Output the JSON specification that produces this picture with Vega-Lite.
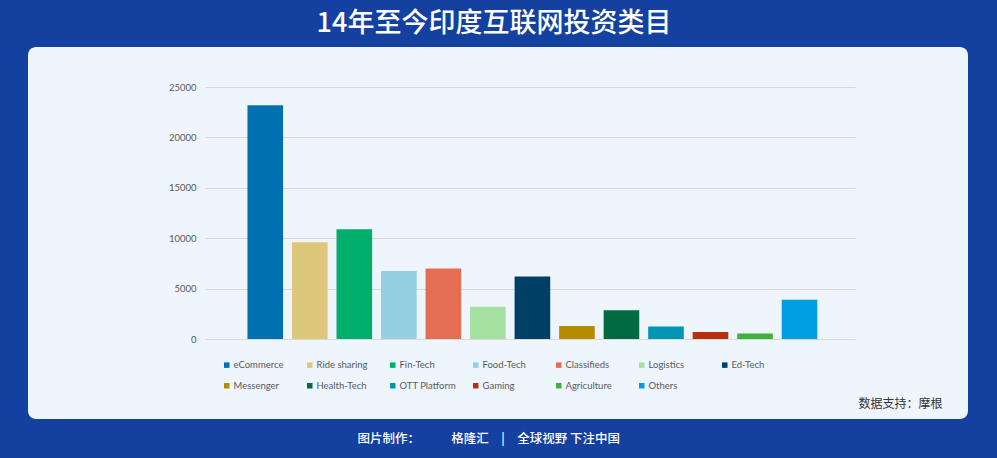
{
  "$schema": "https://vega.github.io/schema/vega-lite/v6.json",
  "width": 940,
  "height": 372,
  "autosize": "none",
  "padding": {"left": 28, "top": 47, "right": 29, "bottom": 39},
  "background": "#14409F",
  "config": {
    "view": {"fill": "#EEF5FD", "stroke": null, "cornerRadius": 8}
  },
  "title": {
    "text": "14年至今印度互联网投资类目",
    "font": "Noto Sans CJK SC",
    "fontSize": 27,
    "fontWeight": 500,
    "color": "#FFFFFF",
    "anchor": "middle",
    "frame": "group",
    "offset": 9,
    "dx": -4
  },
  "data": {
    "values": [
      {"category": "eCommerce", "value": 23200},
      {"category": "Ride sharing", "value": 9600},
      {"category": "Fin-Tech", "value": 10900},
      {"category": "Food-Tech", "value": 6750},
      {"category": "Classifieds", "value": 7000},
      {"category": "Logistics", "value": 3200},
      {"category": "Ed-Tech", "value": 6200},
      {"category": "Messenger", "value": 1300},
      {"category": "Health-Tech", "value": 2850},
      {"category": "OTT Platform", "value": 1250},
      {"category": "Gaming", "value": 700},
      {"category": "Agriculture", "value": 550},
      {"category": "Others", "value": 3900}
    ]
  },
  "mark": {"type": "bar"},
  "encoding": {
    "x": {
      "field": "category",
      "type": "nominal",
      "sort": null,
      "scale": {"range": [177, 827], "paddingInner": 0.2, "paddingOuter": 0.9, "align": 0.53},
      "axis": {
        "labels": false,
        "ticks": false,
        "domain": false,
        "grid": false,
        "title": "数据支持：摩根",
        "titleFont": "Noto Sans CJK SC",
        "titleFontSize": 12,
        "titleFontWeight": "normal",
        "titleColor": "#333333",
        "titleX": 914,
        "titleY": -16,
        "titleAlign": "right",
        "titleBaseline": "middle"
      }
    },
    "y": {
      "field": "value",
      "type": "quantitative",
      "scale": {"domain": [0, 25000], "range": [292, 40], "nice": false},
      "axis": {
        "values": [0, 5000, 10000, 15000, 20000, 25000],
        "format": "d",
        "offset": -177,
        "domain": false,
        "ticks": false,
        "labelPadding": 9,
        "labelFont": "Lato",
        "labelFontSize": 9.5,
        "labelColor": "#595959",
        "grid": true,
        "gridColor": "#D9D9D9",
        "gridWidth": 1,
        "title": "图片制作：　　　格隆汇　|　全球视野 下注中国",
        "titleFont": "Noto Sans CJK SC",
        "titleFontSize": 12.5,
        "titleFontWeight": 500,
        "titleColor": "#FFFFFF",
        "titleAngle": 0,
        "titleX": 152,
        "titleY": 391,
        "titleAlign": "left",
        "titleBaseline": "middle"
      }
    },
    "color": {
      "field": "category",
      "type": "nominal",
      "sort": null,
      "scale": {
        "domain": ["eCommerce", "Ride sharing", "Fin-Tech", "Food-Tech", "Classifieds", "Logistics", "Ed-Tech", "Messenger", "Health-Tech", "OTT Platform", "Gaming", "Agriculture", "Others"],
        "range": ["#0070B0", "#DDC77A", "#00AE6B", "#93D0E1", "#E46E52", "#A6E0A0", "#003F66", "#B38C00", "#006B42", "#0096B4", "#B73010", "#3CB43C", "#009FE3"]
      },
      "legend": {
        "title": null,
        "orient": "none",
        "legendX": 194,
        "legendY": 313,
        "direction": "horizontal",
        "columns": 7,
        "gridAlign": "all",
        "symbolType": "square",
        "symbolSize": 30,
        "symbolStrokeWidth": 0,
        "labelFont": "Lato",
        "labelFontSize": 9.5,
        "labelColor": "#595959",
        "labelOffset": 2,
        "columnPadding": 14,
        "rowPadding": 10,
        "padding": 0
      }
    }
  }
}
